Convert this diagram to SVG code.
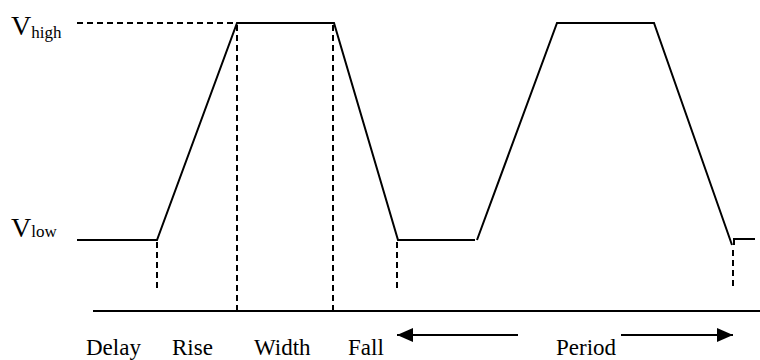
<svg xmlns="http://www.w3.org/2000/svg" width="760" height="360" viewBox="0 0 760 360">
<style>
.s{fill:none;stroke:#000;stroke-width:2}
.d{fill:none;stroke:#000;stroke-width:2;stroke-dasharray:6 4}
text{font-family:'Liberation Serif','Times New Roman','DejaVu Serif',serif;fill:#000}
</style>
<defs>
<marker id="ah" viewBox="0 0 16 14" refX="16" refY="7" markerWidth="16" markerHeight="14" markerUnits="userSpaceOnUse" orient="auto">
<path d="M0,0 L16,7 L0,14 Z" fill="#000"/>
</marker>
</defs>
<rect width="760" height="360" fill="#fff"/>
<g id="waveform">
<polyline class="s" points="77,240 157,240 237,23 334,23 398,240 475,240"/>
<polyline class="s" points="477,240 557,23 654,23 732,245"/>
<polyline class="s" points="734,245 734,239 755,239"/>
</g>
<g id="guides">
<line class="d" x1="77" y1="23" x2="237" y2="23"/>
<line class="d" x1="157" y1="242" x2="157" y2="288"/>
<line class="d" x1="237" y1="25" x2="237" y2="311"/>
<line class="d" x1="333" y1="25" x2="333" y2="311"/>
<line class="d" x1="397" y1="242" x2="397" y2="288"/>
<line class="d" x1="733" y1="250" x2="733" y2="288"/>
</g>
<g id="axis">
<line class="s" x1="93" y1="311" x2="760" y2="311"/>
</g>
<g id="connectors">
<line class="s" x1="518" y1="335" x2="397" y2="335" marker-end="url(#ah)"/>
<line class="s" x1="621" y1="335" x2="733" y2="335" marker-end="url(#ah)"/>
</g>
<g id="labels">
<text x="11" y="35" font-size="28">V<tspan font-size="17" dy="3">high</tspan></text>
<text x="11" y="237" font-size="28">V<tspan font-size="17">low</tspan></text>
<text x="86" y="355" font-size="23">Delay</text>
<text x="172" y="355" font-size="23">Rise</text>
<text x="254" y="355" font-size="23">Width</text>
<text x="348" y="355" font-size="23">Fall</text>
<text x="556" y="355" font-size="23">Period</text>
</g>
</svg>
